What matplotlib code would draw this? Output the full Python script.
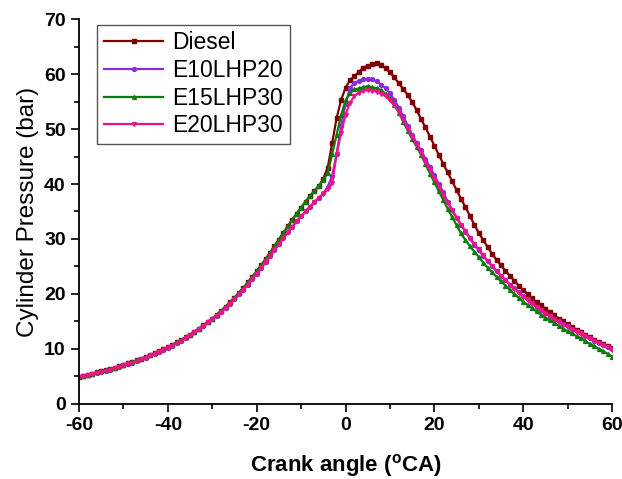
import numpy as np
import matplotlib
matplotlib.use('Agg')
import matplotlib.pyplot as plt
from matplotlib.ticker import MultipleLocator

plt.rcParams['font.family'] = ['Liberation Sans', 'DejaVu Sans']
plt.rcParams['mathtext.fontset'] = 'custom'
plt.rcParams['mathtext.rm'] = 'Liberation Sans'
plt.rcParams['mathtext.bf'] = 'Liberation Sans:bold'
plt.rcParams['axes.unicode_minus'] = False

crank = np.arange(-60, 61, 1)

diesel = [4.9, 5.1, 5.3, 5.5, 5.7, 5.9, 6.1, 6.3, 6.6, 6.8,
          7.1, 7.4, 7.6, 7.9, 8.2, 8.5, 8.9, 9.2, 9.6, 9.9,
          10.3, 10.7, 11.2, 11.6, 12.1, 12.6, 13.1, 13.7, 14.3, 14.9,
          15.5, 16.2, 16.9, 17.7, 18.5, 19.3, 20.2, 21.1, 22.1, 23.1,
          24.1, 25.2, 26.3, 27.5, 28.7, 29.9, 31.1, 32.3, 33.5, 34.6,
          35.7, 36.8, 37.8, 38.7, 39.6, 41.0, 43.0, 47.5, 52.0, 55.3,
          57.5, 58.9, 59.6, 60.4, 61.2, 61.5, 61.8, 62.0, 61.6, 61.1,
          60.3, 59.4, 58.3, 57.3, 56.2, 54.9, 53.5, 51.8, 50.3, 48.6,
          47.0, 45.3, 43.7, 42.1, 40.5, 38.9, 37.3, 35.8, 34.2, 32.6,
          31.1, 29.8, 28.5, 27.3, 26.2, 25.2, 24.2, 23.3, 22.4, 21.5,
          20.7, 19.9, 19.2, 18.5, 17.9, 17.3, 16.7, 16.1, 15.5, 15.0,
          14.5, 14.0, 13.5, 13.0, 12.6, 12.1, 11.7, 11.3, 10.9, 10.5,
          10.1]

e10lhp20 = [4.8, 5.0, 5.2, 5.4, 5.6, 5.8, 6.0, 6.2, 6.5, 6.7,
            7.0, 7.3, 7.5, 7.8, 8.1, 8.4, 8.8, 9.1, 9.5, 9.8,
            10.2, 10.6, 11.1, 11.5, 12.0, 12.5, 13.0, 13.6, 14.2, 14.8,
            15.4, 16.0, 16.7, 17.4, 18.2, 19.0, 19.9, 20.8, 21.7, 22.7,
            23.7, 24.7, 25.8, 26.9, 28.0, 29.1, 30.2, 31.2, 32.2, 33.2,
            34.1, 35.0, 35.9, 36.7, 37.5, 38.3, 39.5, 41.5, 45.5, 50.5,
            54.5, 57.5, 58.4, 58.8, 59.1, 59.2, 59.1, 58.7, 58.1, 57.4,
            56.5, 55.3, 53.9, 52.3, 50.6, 49.0, 47.5, 46.1, 44.6, 43.1,
            41.6, 40.0, 38.5, 36.8, 35.3, 33.9, 32.6, 31.3, 30.1, 28.9,
            27.9, 26.9, 25.9, 25.0, 24.1, 23.3, 22.5, 21.7, 21.0, 20.3,
            19.6, 19.0, 18.3, 17.7, 17.1, 16.6, 16.0, 15.5, 15.0, 14.5,
            14.1, 13.6, 13.2, 12.8, 12.3, 11.9, 11.5, 11.1, 10.7, 10.3,
            9.9]

e15lhp30 = [4.9, 5.1, 5.3, 5.5, 5.7, 5.9, 6.1, 6.3, 6.6, 6.8,
            7.1, 7.4, 7.6, 7.9, 8.2, 8.5, 8.9, 9.2, 9.6, 9.9,
            10.3, 10.7, 11.2, 11.6, 12.1, 12.6, 13.1, 13.7, 14.3, 14.9,
            15.5, 16.2, 16.9, 17.7, 18.5, 19.3, 20.2, 21.1, 22.1, 23.1,
            24.1, 25.2, 26.3, 27.5, 28.7, 29.9, 31.1, 32.3, 33.5, 34.6,
            35.7, 36.8, 37.8, 38.8, 39.7, 40.7, 42.0, 45.5, 49.0, 52.5,
            55.2, 56.5, 57.2, 57.4, 57.6, 57.8, 57.6, 57.4, 57.1, 56.4,
            55.6, 54.3, 53.0, 51.3, 49.7, 48.2, 46.8, 45.3, 43.6, 41.9,
            40.3, 38.7, 37.1, 35.5, 34.0, 32.5, 31.0, 29.8, 28.7, 27.7,
            26.7, 25.7, 24.8, 23.9, 23.1, 22.3, 21.5, 20.7, 20.0, 19.3,
            18.6, 18.0, 17.4, 16.8, 16.2, 15.7, 15.2, 14.7, 14.2, 13.7,
            13.2, 12.8, 12.3, 11.9, 11.4, 10.9, 10.5, 10.0, 9.6, 9.1,
            8.6]

e20lhp30 = [4.8, 5.0, 5.2, 5.4, 5.6, 5.8, 6.0, 6.2, 6.5, 6.7,
            7.0, 7.3, 7.5, 7.8, 8.1, 8.4, 8.8, 9.1, 9.5, 9.8,
            10.2, 10.6, 11.1, 11.5, 12.0, 12.5, 13.0, 13.6, 14.2, 14.8,
            15.4, 16.0, 16.7, 17.4, 18.2, 19.0, 19.9, 20.8, 21.7, 22.7,
            23.7, 24.7, 25.8, 26.9, 28.0, 29.1, 30.2, 31.2, 32.2, 33.2,
            34.1, 35.0, 35.9, 36.7, 37.5, 38.2, 39.0, 40.2, 45.5, 49.3,
            52.6, 54.8, 56.0, 56.6, 57.0, 57.1, 57.0, 56.8, 56.4, 56.0,
            55.2, 54.3, 53.1, 51.6, 50.1, 48.6, 47.1, 45.6, 44.0, 42.5,
            41.0, 39.5, 38.0, 36.6, 35.2, 33.8, 32.6, 31.4, 30.2, 29.1,
            28.1, 27.0, 26.0, 25.1, 24.2, 23.3, 22.5, 21.7, 20.9, 20.2,
            19.5, 18.8, 18.2, 17.6, 17.0, 16.4, 15.9, 15.4, 14.9, 14.4,
            14.0, 13.5, 13.1, 12.7, 12.3, 11.9, 11.5, 11.1, 10.7, 10.3,
            9.7]

names = ['Diesel', 'E10LHP20', 'E15LHP30', 'E20LHP30']
colors = ['#800000', '#8A2BE2', '#0A7D0A', '#EE1289']
markers = ['s', 'o', '^', 'v']

fig = plt.figure(figsize=(6.22, 4.79), dpi=100)
ax = fig.add_axes([0.127, 0.157, 0.857, 0.803])

for series, name, c, m in zip([diesel, e10lhp20, e15lhp30, e20lhp30], names, colors, markers):
    ax.plot(crank, series, color=c, marker=m, markersize=2.8, linewidth=1.6, label=name)

ax.set_xlim(-60, 60)
ax.set_ylim(0, 70)
ax.xaxis.set_major_locator(MultipleLocator(20))
ax.xaxis.set_minor_locator(MultipleLocator(10))
ax.yaxis.set_major_locator(MultipleLocator(10))
ax.yaxis.set_minor_locator(MultipleLocator(5))
ax.tick_params(which='major', direction='out', length=6, width=1.2, labelsize=14)
ax.tick_params(which='minor', direction='out', length=3.5, width=1.2)
for lab in ax.get_xticklabels() + ax.get_yticklabels():
    lab.set_fontweight('bold')
ax.spines['top'].set_visible(False)
ax.spines['right'].set_visible(False)
ax.spines['left'].set_linewidth(1.3)
ax.spines['bottom'].set_linewidth(1.3)

ax.set_xlabel(r'Crank angle ($^{\mathbf{o}}$CA)', fontsize=16, fontweight='bold', labelpad=13)
ax.set_ylabel('Cylinder Pressure (bar)', fontsize=17.5, labelpad=4)

leg = ax.legend(loc='upper left', bbox_to_anchor=(0.025, 0.998), fontsize=16.5, numpoints=1,
                handlelength=2.6, handletextpad=0.4, labelspacing=0.2, borderpad=0.3,
                borderaxespad=0.2, fancybox=False, framealpha=1)
leg.get_frame().set_edgecolor('#555555')
leg.get_frame().set_linewidth(1.0)

plt.savefig('out.png', dpi=100)
